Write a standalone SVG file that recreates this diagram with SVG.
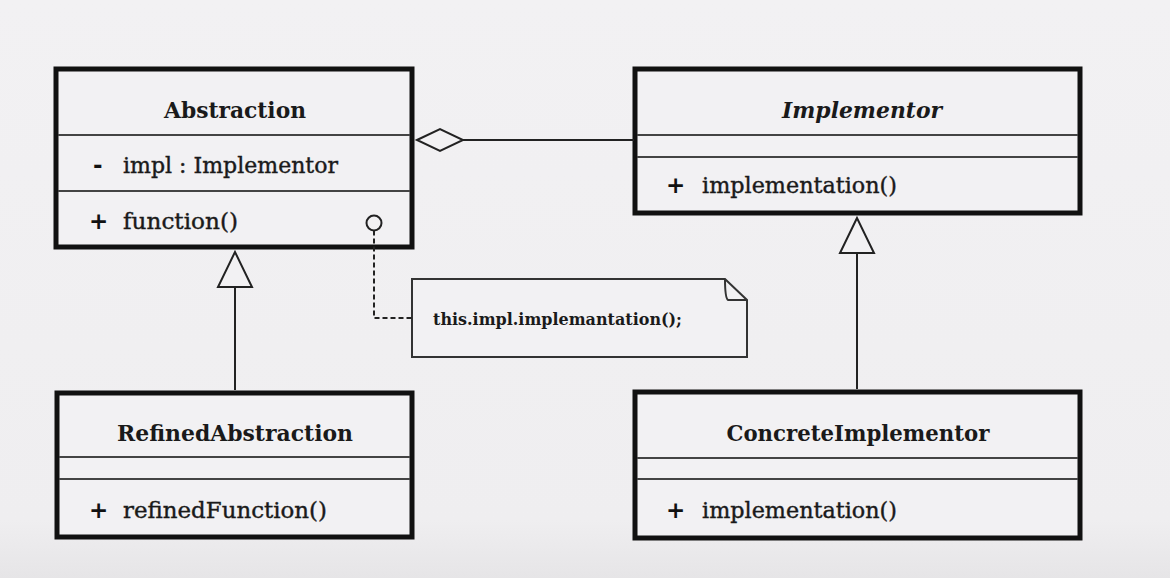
<svg xmlns="http://www.w3.org/2000/svg" width="1170" height="578" viewBox="0 0 1170 578">
<defs>
<linearGradient id="bg" x1="0" y1="0" x2="0" y2="1">
<stop offset="0" stop-color="#f2f1f3"/>
<stop offset="0.9" stop-color="#efeef0"/>
<stop offset="1" stop-color="#e6e5e7"/>
</linearGradient>
<style>
.box{fill:#f2f1f3;stroke:#111;stroke-width:5}
.div{stroke:#444;stroke-width:2;fill:none}
.title{font-family:"DejaVu Serif","Liberation Serif",serif;font-weight:bold;font-size:23px;fill:#1a1a1a;text-anchor:middle}
.mem{font-family:"DejaVu Serif","Liberation Serif",serif;font-size:22px;fill:#1a1a1a;stroke:#1a1a1a;stroke-width:0.4}
.sym{font-family:"DejaVu Sans","Liberation Sans",sans-serif;font-weight:bold;font-size:23px;fill:#111}
.line{stroke:#222;stroke-width:2;fill:none}
.note{font-family:"DejaVu Serif","Liberation Serif",serif;font-weight:bold;font-size:17px;fill:#1a1a1a}
</style>
</defs>
<rect width="1170" height="578" fill="url(#bg)"/>

<g id="abstraction">
<rect class="box" x="56" y="69" width="356" height="178"/>
<line class="div" x1="58" y1="135" x2="410" y2="135"/>
<line class="div" x1="58" y1="191" x2="410" y2="191"/>
<text class="title" x="235" y="118" textLength="142" lengthAdjust="spacingAndGlyphs">Abstraction</text>
<text class="sym" x="93" y="173">-</text>
<text class="mem" x="123" y="173" textLength="215" lengthAdjust="spacingAndGlyphs">impl : Implementor</text>
<text class="sym" x="89" y="229">+</text>
<text class="mem" x="123" y="229" textLength="115" lengthAdjust="spacingAndGlyphs">function()</text>
</g>

<g id="implementor">
<rect class="box" x="635" y="69" width="445" height="144"/>
<line class="div" x1="637" y1="135" x2="1078" y2="135"/>
<line class="div" x1="637" y1="157" x2="1078" y2="157"/>
<text class="title" x="862" y="118" font-style="italic" textLength="160" lengthAdjust="spacingAndGlyphs">Implementor</text>
<text class="sym" x="666" y="193">+</text>
<text class="mem" x="702" y="193" textLength="195" lengthAdjust="spacingAndGlyphs">implementation()</text>
</g>

<g id="refinedAbstraction">
<rect class="box" x="57" y="393" width="355" height="144"/>
<line class="div" x1="59" y1="457" x2="410" y2="457"/>
<line class="div" x1="59" y1="479" x2="410" y2="479"/>
<text class="title" x="235" y="441" textLength="236" lengthAdjust="spacingAndGlyphs">RefinedAbstraction</text>
<text class="sym" x="89" y="518">+</text>
<text class="mem" x="123" y="518" textLength="204" lengthAdjust="spacingAndGlyphs">refinedFunction()</text>
</g>

<g id="concreteImplementor">
<rect class="box" x="635" y="392" width="445" height="146"/>
<line class="div" x1="637" y1="458" x2="1078" y2="458"/>
<line class="div" x1="637" y1="479" x2="1078" y2="479"/>
<text class="title" x="858" y="441" textLength="263" lengthAdjust="spacingAndGlyphs">ConcreteImplementor</text>
<text class="sym" x="666" y="518">+</text>
<text class="mem" x="702" y="518" textLength="195" lengthAdjust="spacingAndGlyphs">implementation()</text>
</g>

<g id="note">
<path d="M412,279 L725,279 L747,300 L747,357 L412,357 Z" fill="#f2f1f3" stroke="#333" stroke-width="2"/>
<path d="M725,279 Q725,298 728,300 L747,300" fill="none" stroke="#333" stroke-width="2"/>
<text class="note" x="433" y="325" textLength="249" lengthAdjust="spacingAndGlyphs">this.impl.implemantation();</text>
</g>

<g id="connectors">
<line class="line" x1="463" y1="140" x2="634" y2="140"/>
<polygon points="417,140 440,129 463,140 440,151" fill="#f2f1f3" stroke="#222" stroke-width="2"/>
<line class="line" x1="235" y1="287" x2="235" y2="390"/>
<polygon points="235,252 218,287 252,287" fill="#f2f1f3" stroke="#222" stroke-width="2"/>
<line class="line" x1="857" y1="253" x2="857" y2="389"/>
<polygon points="857,218 840,253 874,253" fill="#f2f1f3" stroke="#222" stroke-width="2"/>
<circle cx="374" cy="223" r="7.5" fill="#f2f1f3" stroke="#222" stroke-width="2"/>
<polyline points="374,230.5 374,318 412,318" fill="none" stroke="#222" stroke-width="2" stroke-dasharray="5,3"/>
</g>
</svg>
